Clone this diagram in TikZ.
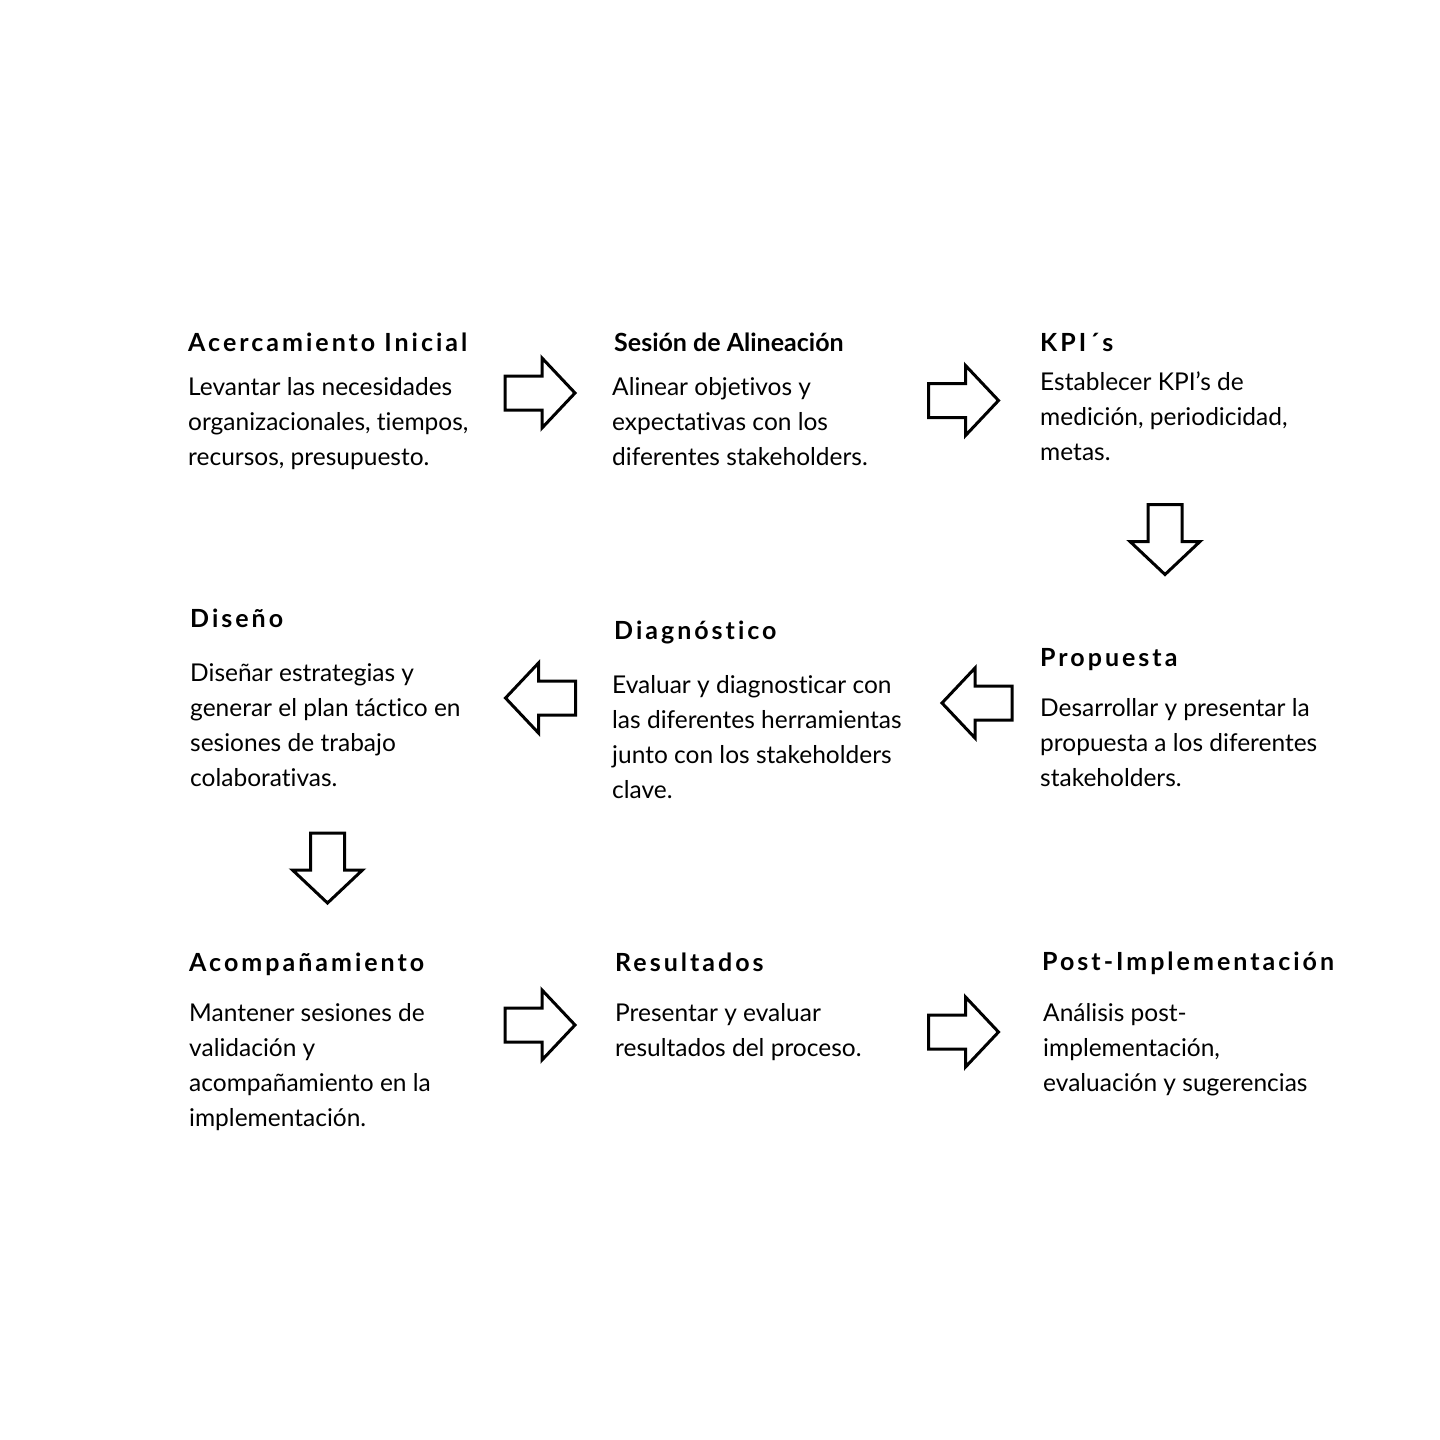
\documentclass[tikz,border=0pt]{standalone}
\usepackage{fontspec}
\setmainfont[Ligatures=NoCommon]{Lato}
\newfontfamily\ttlfont[LetterSpace=12,Ligatures=NoCommon]{Lato Bold}
\newfontfamily\ttlplain[Ligatures=NoCommon]{Lato Bold}
\begin{document}
\begin{tikzpicture}[x=1pt,y=-1pt,
  ttl/.style={anchor=base west,inner sep=0pt,font=\fontsize{25}{35}\selectfont\ttlfont},
  ttlns/.style={anchor=base west,inner sep=0pt,font=\fontsize{25}{35}\selectfont\ttlplain},
  body/.style={anchor=base west,inner sep=0pt,align=left,font=\fontsize{24.5}{35}\selectfont},
  barrow/.pic={\draw[line width=3pt,miter limit=10,fill=white] (-35,-17) -- (2,-17) -- (2,-35) -- (35,0) -- (2,35) -- (2,17) -- (-35,17) -- cycle;}
]
\useasboundingbox (0,0) rectangle (1440,1440);
\fill[white] (0,0) rectangle (1440,1440);

% Row 1  (body nodes: base anchor = baseline of last line)
\node[ttl] (t1) at (188,351) {Acercamiento Inicial};
\node[body] (b1) at (188,465) {Levantar las necesidades\\organizacionales, tiempos,\\recursos, presupuesto.};
\node[ttlns] (t2) at (614,351) {Sesión de Alineación};
\node[body] (b2) at (612,465) {Alinear objetivos y\\expectativas con los\\diferentes stakeholders.};
\node[ttl] (t3) at (1040,351) {KPI´s};
\node[body] (b3) at (1040,460) {Establecer KPI’s de\\medición, periodicidad,\\metas.};

% Row 2
\node[ttl] (t4) at (1040,666) {Propuesta};
\node[body] (b4) at (1040,786) {Desarrollar y presentar la\\propuesta a los diferentes\\stakeholders.};
\node[ttl] (t5) at (614,639) {Diagnóstico};
\node[body] (b5) at (612,798) {Evaluar y diagnosticar con\\las diferentes herramientas\\junto con los stakeholders\\clave.};
\node[ttl] (t6) at (190,627) {Diseño};
\node[body] (b6) at (190,786) {Diseñar estrategias y\\generar el plan táctico en\\sesiones de trabajo\\colaborativas.};

% Row 3
\node[ttl] (t7) at (189,971) {Acompañamiento};
\node[body] (b7) at (189,1126) {Mantener sesiones de\\validación y\\acompañamiento en la\\implementación.};
\node[ttl] (t8) at (615,971) {Resultados};
\node[body] (b8) at (615,1056) {Presentar y evaluar\\resultados del proceso.};
\node[ttl] (t9) at (1042,970) {Post-Implementación};
\node[body] (b9) at (1043,1091) {Análisis post-\\implementación,\\evaluación y sugerencias};

% Arrows
\pic at (540,393) {barrow};
\pic at (963.5,400.5) {barrow};
\pic[rotate=-90] at (1165,539.5) {barrow};
\pic[rotate=180] at (977,703) {barrow};
\pic[rotate=180] at (540.5,698) {barrow};
\pic[rotate=-90] at (327.5,868) {barrow};
\pic at (540,1025) {barrow};
\pic at (963.5,1032) {barrow};
\end{tikzpicture}
\end{document}
